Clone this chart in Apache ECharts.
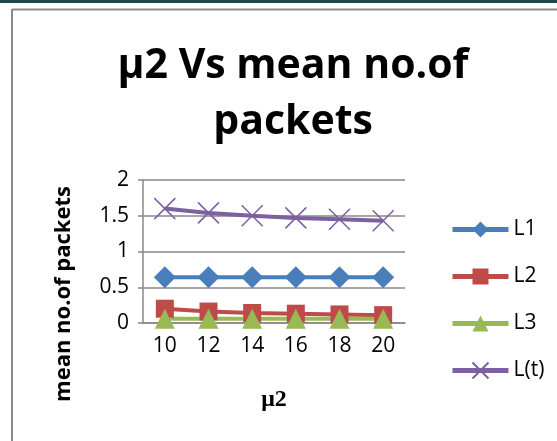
<!DOCTYPE html>
<html>
<head>
<meta charset="utf-8">
<script src="https://cdn.jsdelivr.net/npm/echarts@6/dist/echarts.min.js"></script>
<style>
  html, body { margin: 0; padding: 0; background: #fff; }
  #chart { width: 557px; height: 441px; }
</style>
</head>
<body>
<div id="chart"></div>
<script>
var categories = ['10', '12', '14', '16', '18', '20'];
var l1 = [0.64, 0.64, 0.64, 0.64, 0.64, 0.64];
var l2 = [0.2, 0.16, 0.14, 0.13, 0.12, 0.11];
var l3 = [0.06, 0.06, 0.06, 0.06, 0.06, 0.06];
var lt = [1.6, 1.54, 1.5, 1.47, 1.45, 1.43];

var chart = echarts.init(document.getElementById('chart'));
var font = 'Open Sans';

function line(name, data, color, symbol, size, extra) {
    var s = {
        name: name,
        type: 'line',
        data: data,
        symbol: symbol,
        symbolSize: size,
        lineStyle: { color: color, width: 4 },
        itemStyle: { color: color },
        animation: false
    };
    return Object.assign(s, extra || {});
}

var option = {
    backgroundColor: '#fff',
    title: {
        text: 'μ2 Vs mean no.of\npackets',
        left: 288,
        textAlign: 'center',
        top: 33,
        textStyle: { fontFamily: font, fontWeight: 'bold', fontSize: 41, lineHeight: 56, color: '#000' }
    },
    graphic: [
        { type: 'rect', shape: { x: 0, y: 0, width: 557, height: 3 }, style: { fill: '#1d4848' } },
        { type: 'line', shape: { x1: 12, y1: 9.5, x2: 557, y2: 9.5 }, style: { stroke: '#8a8a8a', lineWidth: 2 } },
        { type: 'line', shape: { x1: 12, y1: 9, x2: 12, y2: 441 }, style: { stroke: '#8a8a8a', lineWidth: 2 } },
        {
            type: 'text', x: 64, y: 294, rotation: Math.PI / 2,
            style: { text: 'mean no.of packets', font: 'bold 22px "Open Sans"', fill: '#000', align: 'center', verticalAlign: 'middle' }
        }
    ],
    legend: {
        orient: 'vertical',
        left: 445,
        top: 214,
        itemWidth: 56,
        itemHeight: 20,
        itemGap: 26,
        lineStyle: { width: 5 },
        textStyle: { fontFamily: font, fontSize: 21, color: '#000' },
        data: ['L1', 'L2', 'L3', 'L(t)']
    },
    grid: { left: 143, top: 180, right: 152, bottom: 118 },
    xAxis: {
        type: 'category',
        data: categories,
        boundaryGap: true,
        name: 'μ2',
        nameLocation: 'middle',
        nameGap: 65,
        nameTextStyle: { fontFamily: 'Liberation Serif', fontWeight: 'bold', fontSize: 24, color: '#000' },
        axisLine: { lineStyle: { color: '#888', width: 1.5 } },
        axisTick: { show: false },
        axisLabel: { fontFamily: font, fontSize: 21, color: '#000', margin: 13 }
    },
    yAxis: {
        type: 'value',
        min: 0,
        max: 2,
        interval: 0.5,
        axisLine: { show: true, lineStyle: { color: '#888', width: 1.5 } },
        axisTick: { show: true, length: 5, lineStyle: { color: '#888', width: 1.5 } },
        splitLine: { lineStyle: { color: '#888', width: 1.5 } },
        axisLabel: { fontFamily: font, fontSize: 21, color: '#000', margin: 14 }
    },
    series: [
        line('L1', l1, '#4a7ebb', 'diamond', 22),
        line('L2', l2, '#be4b48', 'rect', 18),
        line('L3', l3, '#98b954', 'triangle', 20),
        line('L(t)', lt, '#7d60a0', 'path://M0,0L10,10M10,0L0,10', 21, {
            itemStyle: { color: 'none', borderColor: '#7d60a0', borderWidth: 1.5 }
        })
    ]
};

chart.setOption(option);
</script>
</body>
</html>
